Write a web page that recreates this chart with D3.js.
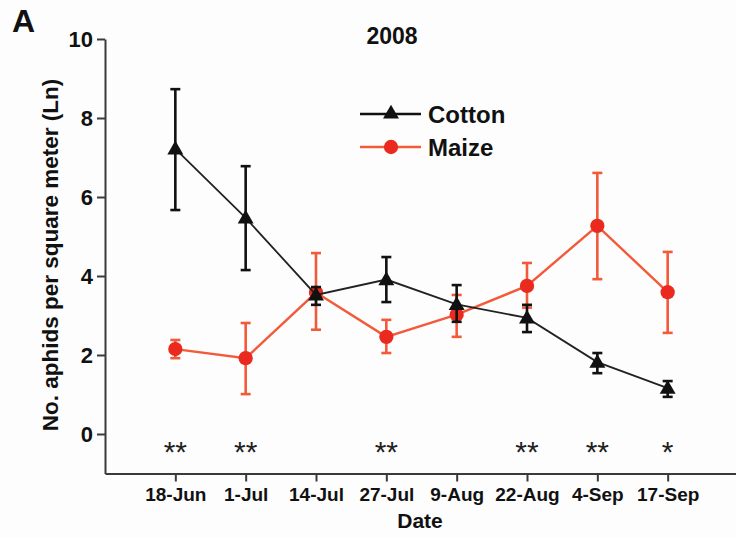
<!DOCTYPE html>
<html>
<head>
<meta charset="utf-8">
<script src="https://cdn.jsdelivr.net/npm/d3@7/dist/d3.min.js"></script>
<style>
  html, body { margin: 0; padding: 0; background: #fdfdfd; }
  text { font-family: "Liberation Sans", Arial, sans-serif; }
</style>
</head>
<body>
<svg id="chart" width="736" height="537"></svg>
<script>
// ---- data ----
const dates = ["18-Jun", "1-Jul", "14-Jul", "27-Jul", "9-Aug", "22-Aug", "4-Sep", "17-Sep"];
const cottonMean = [7.22, 5.47, 3.52, 3.91, 3.28, 2.94, 1.82, 1.16];
const cottonHigh = [8.73, 6.78, 3.72, 4.48, 3.77, 3.27, 2.05, 1.34];
const cottonLow  = [5.67, 4.15, 3.27, 3.34, 2.84, 2.58, 1.54, 0.94];
const maizeMean  = [2.15, 1.92, 3.58, 2.46, 3.02, 3.75, 5.27, 3.59];
const maizeHigh  = [2.38, 2.81, 4.58, 2.89, 3.52, 4.33, 6.61, 4.61];
const maizeLow   = [1.92, 1.01, 2.64, 2.05, 2.46, 3.20, 3.92, 2.56];
const signif     = ["**", "**", "", "**", "", "**", "**", "*"];
const yTicks = [0, 2, 4, 6, 8, 10];
const seriesNames = ["Cotton", "Maize"];

// ---- layout ----
const svg = d3.select("#chart");
const x = d3.scaleLinear().domain([0, 9]).range([105, 738]);
const y = d3.scaleLinear().domain([-1, 10]).range([473.5, 39]);

const black = "#111111";
const redLine = "#f25a3a";
const redMark = "#ea2a1e";
const axisCol = "#3a3a3a";

// y axis
const yAxis = svg.append("g").attr("transform", `translate(${x(0)},0)`)
  .call(d3.axisLeft(y).tickValues(yTicks).tickSize(8).tickSizeOuter(0).tickPadding(4).tickFormat(d3.format("d")));
yAxis.select(".domain").attr("stroke", axisCol).attr("stroke-width", 2);
yAxis.selectAll(".tick line").attr("stroke", axisCol).attr("stroke-width", 2);
yAxis.selectAll(".tick text").attr("font-size", 22).attr("font-weight", "bold")
  .attr("fill", "#111").attr("font-family", "Liberation Sans, Arial, sans-serif").attr("dy", "0.36em");

// x axis
const xAxis = svg.append("g").attr("transform", `translate(0,${y(-1)})`)
  .call(d3.axisBottom(x).tickValues(d3.range(1, 10)).tickSize(8).tickSizeOuter(0).tickPadding(6)
    .tickFormat(d => dates[d - 1] || ""));
xAxis.select(".domain").attr("stroke", axisCol).attr("stroke-width", 2);
xAxis.selectAll(".tick line").attr("stroke", axisCol).attr("stroke-width", 2);
xAxis.selectAll(".tick text").attr("font-size", 19).attr("font-weight", "bold")
  .attr("fill", "#111").attr("font-family", "Liberation Sans, Arial, sans-serif");

// labels
svg.append("text").attr("x", 12).attr("y", 32).attr("font-size", 32).attr("font-weight", "bold")
  .attr("fill", "#111").text("A");
svg.append("text").attr("x", 392).attr("y", 44).attr("text-anchor", "middle")
  .attr("font-size", 23).attr("font-weight", "bold").attr("fill", "#111").text("2008");
svg.append("text").attr("x", 420).attr("y", 528).attr("text-anchor", "middle")
  .attr("font-size", 21).attr("font-weight", "bold").attr("fill", "#111").text("Date");
svg.append("text").attr("transform", `translate(58,255) rotate(-90)`).attr("text-anchor", "middle")
  .attr("font-size", 22.5).attr("font-weight", "bold").attr("fill", "#111")
  .text("No. aphids per square meter (Ln)");

// significance
svg.append("g").selectAll("text").data(signif).join("text")
  .attr("x", (d, i) => x(i + 1)).attr("y", y(-0.72))
  .attr("text-anchor", "middle").attr("font-size", 30).attr("fill", "#222")
  .text(d => d);

function drawSeries(mean, hi, lo, lineColor, errColor, markColor, shape) {
  const g = svg.append("g");
  const line = d3.line().x((d, i) => x(i + 1)).y(d => y(d));
  g.append("path").datum(mean).attr("d", line).attr("fill", "none")
    .attr("stroke", lineColor).attr("stroke-width", shape === "tri" ? 1.8 : 2.4);
  const eb = g.append("g").attr("stroke", errColor).attr("stroke-width", 2.6);
  mean.forEach((m, i) => {
    const cx = x(i + 1);
    eb.append("line").attr("x1", cx).attr("x2", cx).attr("y1", y(hi[i])).attr("y2", y(lo[i]));
    eb.append("line").attr("x1", cx - 5).attr("x2", cx + 5).attr("y1", y(hi[i])).attr("y2", y(hi[i]));
    eb.append("line").attr("x1", cx - 5).attr("x2", cx + 5).attr("y1", y(lo[i])).attr("y2", y(lo[i]));
  });
  const sym = shape === "tri" ? d3.symbol(d3.symbolTriangle, 110) : d3.symbol(d3.symbolCircle, 160);
  g.append("g").selectAll("path").data(mean).join("path")
    .attr("transform", (d, i) => `translate(${x(i + 1)},${y(d) + (shape === "tri" ? 1 : 0)})`)
    .attr("d", sym).attr("fill", markColor);
}

drawSeries(maizeMean, maizeHigh, maizeLow, redLine, redLine, redMark, "circ");
drawSeries(cottonMean, cottonHigh, cottonLow, "#222", black, black, "tri");

// legend
const legend = svg.append("g");
const legItems = [
  { name: seriesNames[0], color: "#111", mark: "#111", sym: d3.symbol(d3.symbolTriangle, 110), yy: 114 },
  { name: seriesNames[1], color: redLine, mark: redMark, sym: d3.symbol(d3.symbolCircle, 160), yy: 147 }
];
legItems.forEach(it => {
  legend.append("line").attr("x1", 360).attr("x2", 421).attr("y1", it.yy).attr("y2", it.yy)
    .attr("stroke", it.color).attr("stroke-width", 2.4);
  legend.append("path").attr("d", it.sym).attr("fill", it.mark)
    .attr("transform", `translate(391,${it.yy})`);
  legend.append("text").attr("x", 428).attr("y", it.yy + 9).attr("font-size", 24)
    .attr("font-weight", "bold").attr("fill", "#111").text(it.name);
});
</script>
</body>
</html>
